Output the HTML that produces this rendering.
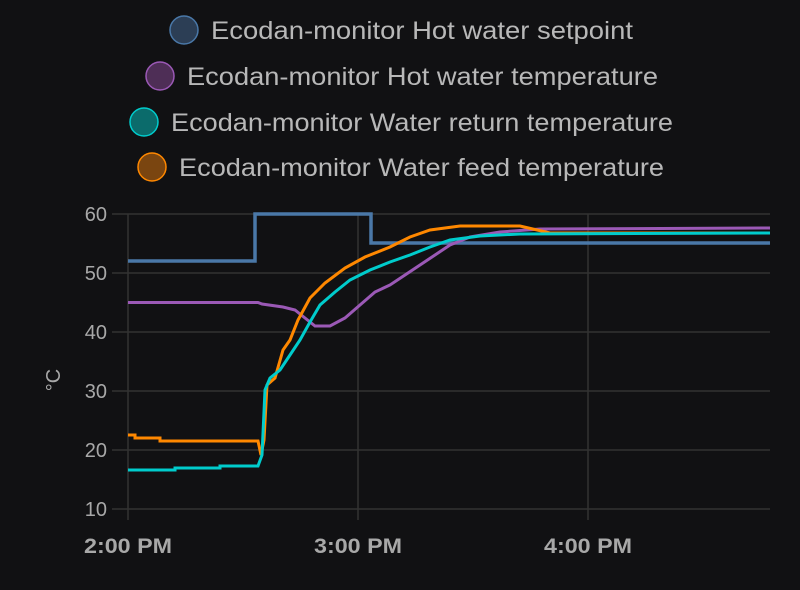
<!DOCTYPE html>
<html><head><style>
body{margin:0;background:#111113;}
svg{display:block;font-family:"Liberation Sans",sans-serif;}
</style></head><body>
<svg width="800" height="590" viewBox="0 0 800 590">
<rect width="800" height="590" fill="#111113"/>
<g font-size="25" fill="#b8b8b8">
<circle cx="184" cy="30" r="14" fill="#2c3e55" stroke="#4a78a8" stroke-width="1.5"/>
<text x="211" y="39" textLength="422" lengthAdjust="spacingAndGlyphs">Ecodan-monitor Hot water setpoint</text>
<circle cx="160" cy="76" r="14" fill="#4e2e56" stroke="#9b59b6" stroke-width="1.5"/>
<text x="187" y="85" textLength="471" lengthAdjust="spacingAndGlyphs">Ecodan-monitor Hot water temperature</text>
<circle cx="144" cy="122" r="14" fill="#0b6b6b" stroke="#00cccc" stroke-width="1.5"/>
<text x="171" y="131" textLength="502" lengthAdjust="spacingAndGlyphs">Ecodan-monitor Water return temperature</text>
<circle cx="152" cy="167" r="14" fill="#7a4510" stroke="#ff8800" stroke-width="1.5"/>
<text x="179" y="176" textLength="485" lengthAdjust="spacingAndGlyphs">Ecodan-monitor Water feed temperature</text>
</g>
<g stroke="#333" stroke-width="1.5">
<line x1="112" y1="214" x2="770" y2="214"/>
<line x1="112" y1="273" x2="770" y2="273"/>
<line x1="112" y1="332" x2="770" y2="332"/>
<line x1="112" y1="391" x2="770" y2="391"/>
<line x1="112" y1="450" x2="770" y2="450"/>
<line x1="112" y1="509" x2="770" y2="509"/>
<line x1="128" y1="214" x2="128" y2="520"/>
<line x1="358" y1="214" x2="358" y2="520"/>
<line x1="588" y1="214" x2="588" y2="520"/>
</g>
<g font-size="20" fill="#a8a8a8" text-anchor="end">
<text x="107" y="221">60</text><text x="107" y="280">50</text><text x="107" y="339">40</text>
<text x="107" y="398">30</text><text x="107" y="457">20</text><text x="107" y="516">10</text>
</g>
<text x="60" y="380" font-size="20" fill="#a8a8a8" transform="rotate(-90 60 380)" text-anchor="middle">°C</text>
<g font-size="21" font-weight="bold" fill="#a8a8a8" text-anchor="middle">
<text x="128" y="553" textLength="88" lengthAdjust="spacingAndGlyphs">2:00 PM</text><text x="358" y="553" textLength="88" lengthAdjust="spacingAndGlyphs">3:00 PM</text><text x="588" y="553" textLength="88" lengthAdjust="spacingAndGlyphs">4:00 PM</text>
</g>
<g fill="none" stroke-width="3" stroke-linejoin="miter">
<polyline stroke="#4a78a8" stroke-width="3.5" points="128,261 255,261 255,214 371,214 371,243 770,243"/>
<polyline stroke="#9b59b6" points="128,302.5 258,302.5 262,304 283,307 295,310 305,318 315,326 330,326 345,318 360,305 375,292 390,285 405,275 420,265 435,255 450,245 470,237 500,232 540,229 770,228"/>
<polyline stroke="#ff8800" points="128,435 135,435 135,438 160,438 160,441 258,441 261,455 264,440 267,385 275,378 283,350 290,340 298,320 310,298 325,283 345,268 365,257 390,247 410,237 430,230 460,226 520,226 550,233 770,233"/>
<polyline stroke="#00cccc" points="128,470 175,470 175,468 220,468 220,466 258,466 262,455 265,390 270,378 280,370 290,355 300,340 310,322 320,305 335,292 350,280 370,270 390,262 410,255 430,247 450,240 480,236 520,234 770,233"/>
</g>
</svg>
</body></html>
